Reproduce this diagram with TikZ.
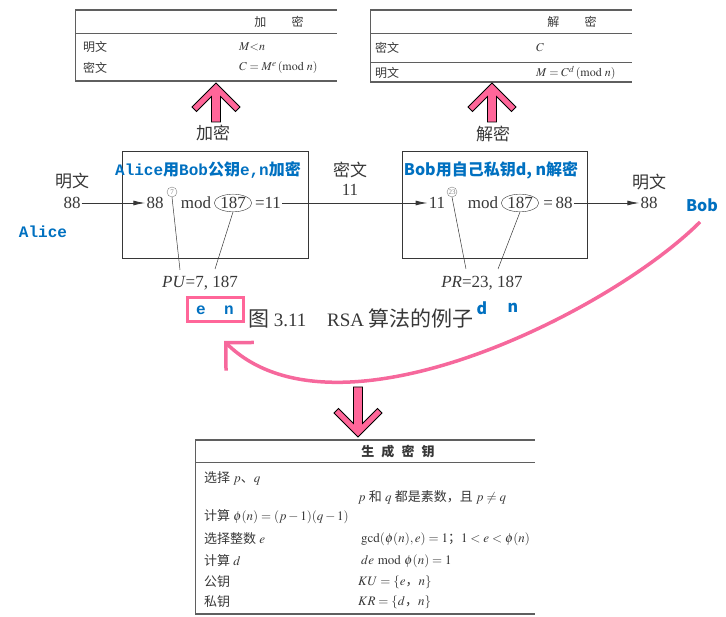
\documentclass[tikz,border=0pt]{standalone}
\usepackage{mathptmx}
\usepackage{fontspec}
\setmainfont{Liberation Serif}
\newfontfamily\cjk{Noto Sans CJK SC}
\newfontfamily\monob{Liberation Mono}
\usetikzlibrary{arrows.meta,shapes.geometric}
\definecolor{inkgray}{RGB}{55,55,55}
\definecolor{rulegray}{RGB}{95,95,95}
\definecolor{noteblue}{RGB}{0,112,192}
\definecolor{hotpink}{RGB}{255,102,153}
\definecolor{curvepink}{RGB}{246,104,156}
\tikzset{
	txt/.style={inner sep=1pt, text=inkgray, font=\fontsize{17}{20}\selectfont},
	tab/.style={inner sep=1pt, text=inkgray, font=\fontsize{12}{14}\selectfont},
	ktab/.style={inner sep=1pt, anchor=west, text=inkgray, font=\fontsize{13}{15}\selectfont},
	note/.style={inner sep=1pt, text=noteblue, font=\fontsize{16}{19}\selectfont\bfseries},
	flow/.style={-{Latex[length=12pt,width=5pt]}, inkgray, line width=0.9pt},
	lead/.style={inkgray, line width=0.5pt},
	rule/.style={rulegray, line width=0.8pt},
	toprule/.style={rulegray, line width=1.6pt},
	circnum/.style={circle, draw=gray, text=gray, inner sep=0.3pt, minimum size=10pt, font=\fontsize{7}{7}\selectfont},
	pics/blockarrow/.style={code={
		\filldraw[fill=hotpink, draw=black, line width=0.8pt]
			(0,0) -- (24,24) -- (19.5,28.5) -- (4.5,13.5) -- (4.5,#1)
			-- (-4.5,#1) -- (-4.5,13.5) -- (-19.5,28.5) -- (-24,24) -- cycle;
	}},
}
\begin{document}
\begin{tikzpicture}[x=1pt, y=-1pt]
		\useasboundingbox (0,0) rectangle (726,617);

		% encryption table
		\draw[rule]		(75,10) -- (75,81);
		\draw[toprule]	(75,10) -- (337,10);
		\draw[rule]		(75,33) -- (337,33);
		\draw[toprule]	(75,81) -- (337,81);
		\node[tab] (encHead) at (279,22) {\cjk 加\hspace{2.1em}密};
		\node[tab, anchor=west] (encP) at (82,47) {\cjk 明文};
		\node[tab, anchor=west] (encPv) at (238,47) {$M{<}n$};
		\node[tab, anchor=west] (encC) at (82,68) {\cjk 密文};
		\node[tab, anchor=west] (encCv) at (238,68) {$C=M^{e}\,(\mathrm{mod}\ n)$};

		% decryption table
		\draw[rule]		(370,10) -- (370,82);
		\draw[toprule]	(370,10) -- (632,10);
		\draw[rule]		(370,33) -- (632,33);
		\draw[rule]		(370,62) -- (632,62);
		\draw[toprule]	(370,82) -- (632,82);
		\node[tab] (decHead) at (572,22) {\cjk 解\hspace{2.1em}密};
		\node[tab, anchor=west] (decC) at (374,48) {\cjk 密文};
		\node[tab, anchor=west] (decCv) at (535,48) {$C$};
		\node[tab, anchor=west] (decP) at (374,73) {\cjk 明文};
		\node[tab, anchor=west] (decPv) at (535,73) {$M=C^{d}\,(\mathrm{mod}\ n)$};

		\pic at (216,83) {blockarrow=39};
		\pic at (492,83) {blockarrow=39};

		% RSA example
		\node[txt] (encLab) at (213,133) {\cjk 加密};
		\node[txt] (decLab) at (493,134) {\cjk 解密};
		\draw[inkgray, line width=0.9pt]	(122,151) rectangle (308,258)
											(402,151) rectangle (587,258);

		\node[note] (aliceNote) at (208,170) {{\monob Alice}{\cjk 用}{\monob Bob}{\cjk 公钥}{\monob e,n}{\cjk 加密}};
		\node[note] (bobNote) at (491,170) {\cjk Bob用自己私钥d, n解密};

		\node[txt] (ptLab) at (72,181) {\cjk 明文};
		\node[txt] (ptIn) at (72,203) {88};
		\node[txt] (mA) at (155,203) {88};
		\node[circnum] (eA) at (172,192) {7};
		\node[txt] (modA) at (196,203) {mod};
		\node[txt, ellipse, draw=inkgray, inner sep=0.5pt] (nA) at (233,203) {187};
		\node[txt] (cA) at (268,203) {=11};

		\node[txt] (ctLab) at (350,170) {\cjk 密文};
		\node[txt] (ctVal) at (350,190) {11};
		\node[txt] (cB) at (437,203) {11};
		\node[circnum] (dB) at (452,192) {23};
		\node[txt] (modB) at (483,203) {mod};
		\node[txt, ellipse, draw=inkgray, inner sep=0.5pt] (nB) at (520,203) {187};
		\node[txt] (mB) at (558,203) {=\,88};
		\node[txt] (ptOutLab) at (649,182) {\cjk 明文};
		\node[txt] (ptOut) at (649,203) {88};

		\draw[flow] (ptIn) -- (mA);
		\draw[flow] (cA) -- (cB);
		\draw[flow] (mB) -- (ptOut);

		\node[txt] (pu) at (200,283) {\textit{PU}=7, 187};
		\node[txt] (pr) at (482,283) {\textit{PR}=23, 187};
		\coordinate (puE) at (180,270);
		\coordinate (puN) at (215,269);
		\coordinate (prD) at (466,269);
		\coordinate (prN) at (498,269);
		\draw[lead] (eA.south) -- (puE);
		\draw[lead] (nA.south) -- (puN);
		\draw[lead] (dB.south) -- (prD);
		\draw[lead] (nB.south) -- (prN);

		\node[note, font=\fontsize{16}{19}\selectfont\bfseries\monob] (alice) at (43,232) {Alice};
		\node[note, font=\fontsize{16}{19}\selectfont\bfseries\cjk] (bob) at (702,205) {Bob};

		\node[draw=hotpink, line width=3pt, minimum width=56pt, minimum height=24pt, inner sep=0pt,
			text=noteblue, font=\fontsize{16}{19}\selectfont\bfseries\monob] (enBox) at (215,310) {e\hspace{1.15em}n};
		\node[txt, font=\fontsize{19}{22}\selectfont] (caption) at (361,318)
			{{\cjk\fontsize{21}{22}\selectfont 图} 3.11\hspace{1.1em}RSA {\cjk\fontsize{21}{22}\selectfont 算法的例子}};
		\node[note, font=\fontsize{16}{19}\selectfont\bfseries\cjk] (dKey) at (482,308) {d};
		\node[note, font=\fontsize{16}{19}\selectfont\bfseries\cjk] (nKey) at (513,308) {n};

		\coordinate (bobTail) at (700,222);
		\coordinate (enTip) at (224,341);
		\draw[curvepink, line width=3.5pt, -{Straight Barb[angle=90:28pt]}]
			(bobTail) .. controls (610,312) and (335,450) .. (enTip);

		\pic[rotate=180] at (358,437) {blockarrow=50};

		% key generation table
		\draw[rule]		(195,440) -- (195,614);
		\draw[toprule]	(195,440) -- (535,440);
		\draw[rule]		(195,462) -- (535,462);
		\draw[toprule]	(195,614) -- (535,614);
		\node[ktab, anchor=center, font=\fontsize{13}{15}\selectfont\bfseries\cjk] (genHead) at (398,452) {生\hspace{0.55em}成\hspace{0.55em}密\hspace{0.55em}钥};
		\node[ktab] (rowPQ) at (203,478) {{\cjk 选择} $p${\cjk 、}$q$};
		\node[ktab] (rowPQv) at (357,497) {$p$ {\cjk 和} $q$ {\cjk 都是素数，且} $p\neq q$};
		\node[ktab] (rowPhi) at (203,517) {{\cjk 计算} $\phi(n)=(p-1)(q-1)$};
		\node[ktab] (rowE) at (203,539) {{\cjk 选择整数} $e$};
		\node[ktab] (rowEv) at (360,539) {$\gcd(\phi(n),e)=1${\cjk ；}$1<e<\phi(n)$};
		\node[ktab] (rowD) at (203,561) {{\cjk 计算} $d$};
		\node[ktab] (rowDv) at (360,561) {$de \bmod \phi(n)=1$};
		\node[ktab] (rowKU) at (203,582) {\cjk 公钥};
		\node[ktab] (rowKUv) at (357,582) {$KU=\{e${\cjk ，}$n\}$};
		\node[ktab] (rowKR) at (203,602) {\cjk 私钥};
		\node[ktab] (rowKRv) at (357,602) {$KR=\{d${\cjk ，}$n\}$};
\end{tikzpicture}
\end{document}
